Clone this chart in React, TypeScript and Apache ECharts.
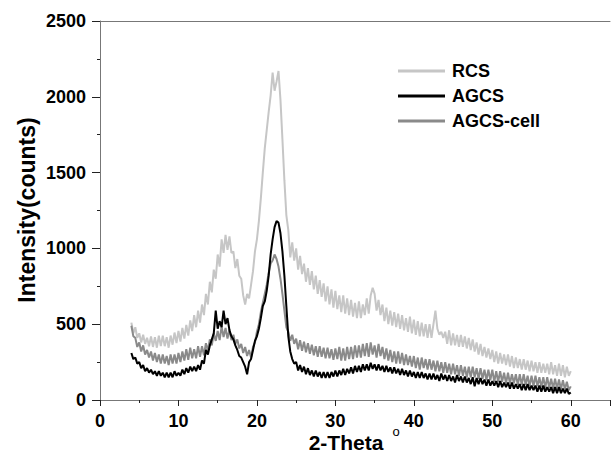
import { useEffect, useRef } from 'react';
import * as echarts from 'echarts';

// 2-Theta sampling grid of the scan (degrees)
const THETA_START = 4;
const THETA_STEP = 0.25;

// Intensities (counts), one value every 0.25 degree from 4 to 60
const RCS = [
  510, 440, 480, 410, 440, 380, 430, 370, 410, 355, 420, 350, 415, 345, 425, 355,
  425, 355, 415, 345, 425, 365, 445, 375, 455, 385, 475, 405, 495, 425, 525, 455,
  560, 480, 590, 510, 630, 560, 700, 630, 780, 710, 860, 800, 960, 880, 1060, 970,
  1090, 990, 1080, 970, 980, 870, 930, 820, 800, 690, 630, 700, 670, 760, 850, 980,
  1060, 1180, 1330, 1500, 1660, 1780, 1900, 2010, 2160, 2040, 2100, 2170, 1980, 1720, 1450, 1220,
  1120, 940, 1040, 920, 1000, 860, 950, 830, 900, 780, 870, 760, 850, 730, 820, 700,
  790, 680, 770, 650, 750, 630, 730, 610, 720, 600, 690, 580, 690, 570, 670, 560,
  660, 550, 640, 540, 650, 540, 630, 560, 670, 570, 690, 740, 700, 590, 660, 560,
  630, 520, 610, 500, 590, 490, 580, 480, 570, 470, 560, 460, 540, 450, 550, 440,
  530, 430, 520, 420, 510, 420, 500, 410, 500, 410, 500, 590, 470, 430, 450, 410,
  450, 370, 460, 360, 440, 360, 430, 350, 430, 350, 420, 340, 410, 330, 400, 320,
  380, 300, 370, 290, 350, 280, 340, 270, 330, 250, 320, 240, 310, 240, 300, 230,
  300, 220, 290, 210, 280, 210, 270, 200, 270, 200, 260, 190, 260, 190, 250, 180,
  250, 180, 240, 180, 240, 170, 250, 170, 230, 160, 240, 160, 230, 150, 220, 160,
  190,
];

const AGCS = [
  310, 270, 280, 240, 250, 210, 230, 190, 210, 180, 200, 170, 190, 160, 190, 160,
  180, 150, 180, 150, 180, 150, 190, 160, 180, 160, 200, 170, 210, 180, 220, 190,
  220, 190, 230, 200, 260, 240, 330, 300, 360, 400, 440, 590, 470, 520, 480, 590,
  500, 540, 460, 420, 400, 360, 330, 290, 280, 250, 220, 170, 250, 270, 330, 390,
  420, 470, 540, 620, 650, 720, 820, 960, 1060, 1140, 1180, 1170, 1100, 980, 820, 620,
  420, 320, 270, 240, 250, 195, 230, 185, 220, 170, 210, 165, 195, 155, 195, 155,
  185, 145, 185, 145, 185, 145, 185, 155, 195, 155, 195, 165, 205, 165, 205, 175,
  215, 175, 225, 185, 225, 185, 235, 195, 235, 195, 245, 205, 235, 195, 235, 195,
  225, 185, 225, 185, 215, 175, 215, 175, 205, 165, 205, 165, 195, 155, 195, 155,
  185, 145, 185, 145, 185, 145, 175, 135, 175, 135, 175, 135, 165, 125, 175, 135,
  165, 125, 165, 125, 155, 115, 165, 125, 155, 115, 155, 115, 145, 105, 150, 90,
  145, 105, 145, 105, 135, 95, 135, 95, 125, 95, 125, 85, 125, 85, 115, 85,
  115, 75, 115, 75, 105, 75, 105, 65, 105, 65, 105, 65, 95, 65, 95, 55,
  95, 55, 95, 55, 85, 55, 85, 45, 85, 45, 85, 45, 75, 45, 75, 40,
  50,
];

const AGCS_CELL = [
  490, 420, 410, 350, 380, 320, 360, 300, 330, 280, 320, 260, 310, 250, 300, 240,
  300, 240, 290, 230, 300, 240, 300, 240, 310, 250, 320, 260, 335, 265, 345, 275,
  335, 275, 355, 285, 355, 295, 375, 325, 400, 360, 440, 390, 455, 395, 485, 415,
  475, 405, 465, 395, 430, 370, 400, 340, 370, 310, 350, 290, 330, 280, 350, 380,
  450, 500, 580, 640, 700, 760, 840, 900, 920, 960, 930, 880, 800, 700, 590, 480,
  450, 390, 430, 370, 405, 335, 395, 325, 385, 315, 375, 305, 365, 295, 355, 285,
  355, 285, 345, 275, 345, 275, 335, 265, 340, 270, 350, 260, 340, 260, 350, 270,
  350, 270, 360, 280, 360, 280, 370, 290, 375, 285, 380, 300, 360, 280, 370, 290,
  350, 270, 340, 260, 330, 250, 320, 240, 320, 240, 310, 230, 300, 230, 290, 220,
  290, 210, 280, 200, 280, 210, 270, 200, 270, 200, 260, 190, 260, 190, 250, 180,
  250, 180, 240, 170, 240, 170, 230, 160, 230, 160, 220, 150, 220, 150, 220, 150,
  210, 140, 210, 140, 200, 130, 200, 130, 200, 120, 190, 120, 190, 120, 180, 110,
  180, 110, 170, 110, 170, 100, 170, 100, 170, 100, 160, 90, 160, 90, 160, 90,
  150, 85, 150, 80, 150, 80, 140, 75, 140, 75, 135, 70, 130, 70, 120, 65,
  90,
];

const SERIES_NAMES = ['RCS', 'AGCS', 'AGCS-cell'];
const X_TICKS = [0, 10, 20, 30, 40, 50, 60];

const FONT = 'Liberation Sans, Arial, Helvetica, sans-serif';
const AXIS_COLOR = '#777';

const toPairs = (arr: number[]) => arr.map((v, i) => [THETA_START + i * THETA_STEP, v]);

export default function App() {
  const ref = useRef<HTMLDivElement>(null);

  useEffect(() => {
    document.body.style.margin = '0';
    if (!ref.current) return;
    const chart = echarts.init(ref.current, null, { renderer: 'svg' });

    const labelStyle = {
      fontSize: 18,
      fontWeight: 'bold' as const,
      color: '#000',
      fontFamily: FONT,
    };

    chart.setOption({
      animation: false,
      backgroundColor: '#fff',
      grid: { left: 100, right: 1, top: 21, bottom: 55, containLabel: false },
      legend: {
        orient: 'vertical',
        left: 393,
        top: 57,
        itemWidth: 47,
        itemHeight: 3,
        itemGap: 7,
        icon: 'rect',
        data: SERIES_NAMES,
        textStyle: { ...labelStyle, padding: [0, 0, 0, 2] },
      },
      xAxis: [
        {
          type: 'value',
          min: 0,
          max: 65,
          interval: 10,
          position: 'bottom',
          axisLine: { show: true, onZero: false, lineStyle: { color: AXIS_COLOR, width: 1 } },
          axisTick: { show: true, length: 6, lineStyle: { color: '#222', width: 1 } },
          minorTick: { show: true, splitNumber: 2, length: 3, lineStyle: { color: '#222', width: 1 } },
          axisLabel: {
            ...labelStyle,
            margin: 12,
            formatter: (v: number) => (X_TICKS.includes(v) ? String(v) : ''),
          },
          splitLine: { show: false },
        },
        {
          type: 'value',
          min: 0,
          max: 65,
          position: 'top',
          axisLine: { show: true, onZero: false, lineStyle: { color: AXIS_COLOR, width: 1 } },
          axisTick: { show: false },
          axisLabel: { show: false },
          splitLine: { show: false },
        },
      ],
      yAxis: {
        type: 'value',
        min: 0,
        max: 2500,
        interval: 500,
        axisLine: { show: true, lineStyle: { color: AXIS_COLOR, width: 1 } },
        axisTick: { show: true, length: 8, lineStyle: { color: '#222', width: 1 } },
        minorTick: { show: true, splitNumber: 2, length: 3, lineStyle: { color: '#222', width: 1 } },
        axisLabel: { ...labelStyle, margin: 14, formatter: (v: number) => String(v) },
        splitLine: { show: false },
      },
      series: [
        {
          name: 'RCS',
          type: 'line',
          data: toPairs(RCS),
          showSymbol: false,
          symbol: 'none',
          lineStyle: { color: '#c6c6c6', width: 2 },
          itemStyle: { color: '#c6c6c6' },
          z: 1,
        },
        {
          name: 'AGCS-cell',
          type: 'line',
          data: toPairs(AGCS_CELL),
          showSymbol: false,
          symbol: 'none',
          lineStyle: { color: '#8a8a8a', width: 2 },
          itemStyle: { color: '#8a8a8a' },
          z: 2,
        },
        {
          name: 'AGCS',
          type: 'line',
          data: toPairs(AGCS),
          showSymbol: false,
          symbol: 'none',
          lineStyle: { color: '#000', width: 2 },
          itemStyle: { color: '#000' },
          z: 3,
        },
      ],
      graphic: [
        {
          type: 'text',
          x: 27,
          y: 210,
          rotation: Math.PI / 2,
          style: {
            text: 'Intensity(counts)',
            fontSize: 23,
            fontWeight: 'bold',
            fontFamily: FONT,
            fill: '#000',
            align: 'center',
            verticalAlign: 'middle',
          },
        },
        {
          type: 'text',
          x: 346,
          y: 442,
          style: {
            text: '2-Theta',
            fontSize: 21,
            fontWeight: 'bold',
            fontFamily: FONT,
            fill: '#000',
            align: 'center',
            verticalAlign: 'middle',
          },
        },
        {
          type: 'text',
          x: 396,
          y: 431,
          style: {
            text: 'o',
            fontSize: 13,
            fontFamily: FONT,
            fill: '#000',
            align: 'center',
            verticalAlign: 'middle',
          },
        },
      ],
    });

    return () => chart.dispose();
  }, []);

  return <div ref={ref} style={{ width: 613, height: 455 }} />;
}
